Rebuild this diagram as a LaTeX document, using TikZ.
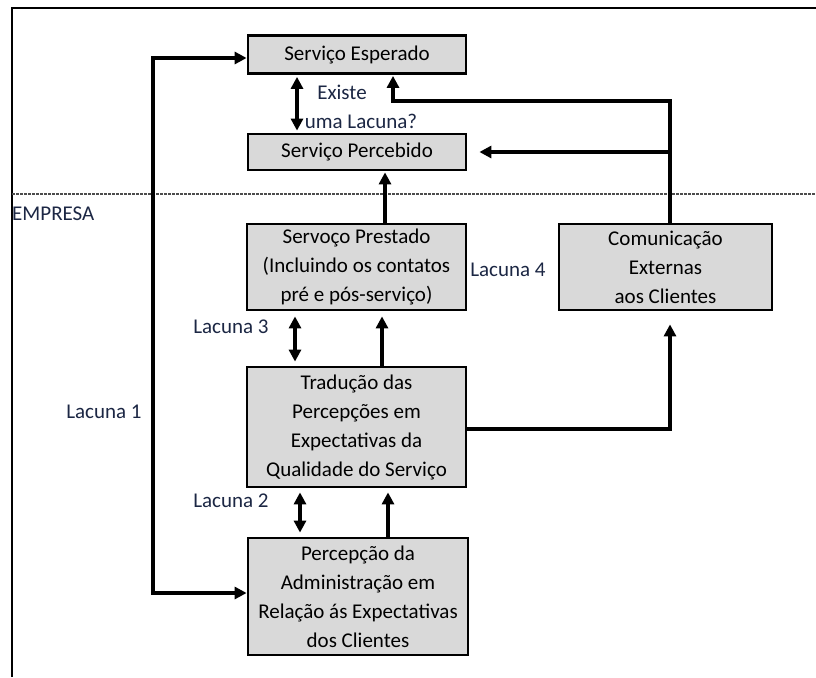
\documentclass[tikz,border=0pt]{standalone}
\usepackage{fontspec}
\setmainfont{Carlito}
\usetikzlibrary{arrows.meta,calc}
\definecolor{boxgray}{HTML}{D9D9D9}
\definecolor{lbl}{HTML}{1C2744}
\begin{document}
\begin{tikzpicture}[x=1pt,y=-1pt,
  box/.style={draw=black, line width=2.8pt, fill=boxgray, align=center, inner sep=0pt, text=black,
    font=\fontsize{21}{29}\selectfont},
  tip/.tip={Triangle[length=12pt,width=12pt]},
  conn/.style={line width=3.6pt, -tip},
  dconn/.style={line width=3.6pt, tip-tip},
  lab/.style={text=lbl, font=\fontsize{21}{25}\selectfont, inner sep=0pt}]
\useasboundingbox (0,0) rectangle (816,677);
\fill[white] (0,0) rectangle (816,677);
% frame
\draw[line width=2.6pt] (12,677) -- (12,8) -- (816,8);
\draw[gray!60!black, line width=1.2pt, dash pattern=on 2.5pt off 1.5pt] (12,194) -- (816,194);

% boxes
\node[box, minimum width=218pt, minimum height=38pt] (esp) at (357,54.5) {Serviço Esperado};
\node[box, minimum width=218pt, minimum height=36pt] (perc) at (357,152) {Serviço Percebido};
\node[box, minimum width=219pt, minimum height=86pt] (prest) at (356.5,267) {Servoço Prestado\\(Incluindo os contatos\\pré e pós-serviço)};
\node[box, minimum width=213pt, minimum height=86pt] (com) at (665.5,267) {Comunicação\\Externas\\aos Clientes};
\node[box, minimum width=219pt, minimum height=120pt] (trad) at (356.5,427) {Tradução das\\Percepções em\\Expectativas da\\Qualidade do Serviço};
\node[box, minimum width=220pt, minimum height=117pt] (adm) at (358,596.5) {Percepção da\\Administração em\\Relação ás Expectativas\\dos Clientes};

% labels
\node[lab] (ex) at (342,92) {Existe};
\node[lab] (ul) at (361,121) {uma Lacuna?};
\node[lab] (l4) at (508,270) {Lacuna 4};
\node[lab] (l3) at (231,327) {Lacuna 3};
\node[lab] (l2) at (231,501) {Lacuna 2};
\node[lab] (l1) at (104,412) {Lacuna 1};
\node[lab, anchor=west] (emp) at (12,214) {EMPRESA};

% coordinates
\coordinate (xl1) at (153,300);
\coordinate (ga) at (297,0);
\coordinate (gc) at (393,101);
\coordinate (xr) at (670,0);
\coordinate (gb) at (385,0);
\coordinate (gd) at (295,0);
\coordinate (ge) at (382,0);
\coordinate (gg) at (300,0);
\coordinate (gh) at (388,0);

% connectors
\draw[dconn] ([yshift=-3.5pt]esp.west) -| (xl1) |- ([yshift=3.5pt]adm.west);
\draw[dconn, shorten <=2pt, shorten >=2pt] (ga |- esp.south) -- (ga |- perc.north);
\draw[conn, shorten >=1pt] (xr |- com.north) |- (gc) -- (gc |- esp.south);
\draw[conn] (xr |- perc.east) -- ([xshift=12pt]perc.east);
\draw[conn, shorten >=1pt] (gb |- prest.north) -- (gb |- perc.south);
\draw[dconn, shorten <=5pt, shorten >=4pt] (gd |- prest.south) -- (gd |- trad.north);
\draw[conn, shorten >=5pt] (ge |- trad.north) -- (ge |- prest.south);
\draw[conn, shorten >=13pt] ([yshift=-2pt]trad.east) -| (xr |- com.south);
\draw[dconn, shorten <=4pt, shorten >=4pt] (gg |- trad.south) -- (gg |- adm.north);
\draw[conn, shorten >=4pt] (gh |- adm.north) -- (gh |- trad.south);
\end{tikzpicture}
\end{document}
